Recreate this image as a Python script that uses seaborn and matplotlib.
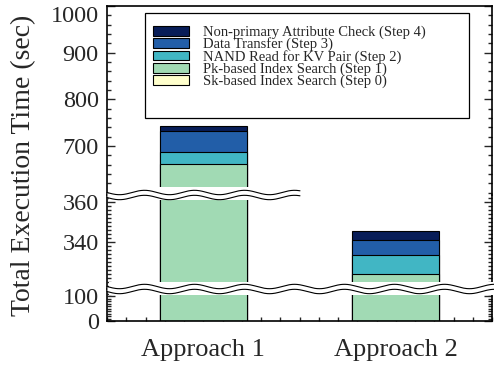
import matplotlib
matplotlib.use("Agg")
import matplotlib.pyplot as plt
import seaborn as sns
import numpy as np
from matplotlib.ticker import MultipleLocator, FixedLocator
from matplotlib.patches import Patch, Rectangle

# ---- data (seconds) ----
approaches = ["Approach 1", "Approach 2"]
step0 = [0.4, 0.3]      # Sk-based Index Search
step1 = [661.0, 323.4]  # Pk-based Index Search
step2 = [25.0, 9.5]     # NAND Read for KV Pair
step3 = [45.5, 7.8]     # Data Transfer
step4 = [11.0, 4.4]     # Non-primary Attribute Check
step_labels = ["Sk-based Index Search (Step 0)",
               "Pk-based Index Search (Step 1)",
               "NAND Read for KV Pair (Step 2)",
               "Data Transfer (Step 3)",
               "Non-primary Attribute Check (Step 4)"]
colors = ["#ffffcc", "#a1dab4", "#41b6c4", "#225ea8", "#081d58"]

# broken y-axis panels (top -> bottom)
panel_ylims = [(595, 1000), (316.35, 363.35), (0, 128)]
panel_major = [[700, 800, 900, 1000], [340, 360], [0, 100]]
panel_minor = [20, 2, 10]

sns.set_theme(style="ticks")
plt.rcParams["font.family"] = ["Liberation Serif", "DejaVu Serif"]
plt.rcParams["axes.linewidth"] = 1.2

W, H = 494, 372
fig = plt.figure(figsize=(W / 100, H / 100), dpi=100)
L, R = 107, 492
panel_px = [(6, 195), (195, 289), (289, 321)]

cum = np.cumsum(np.array([step0, step1, step2, step3, step4]), axis=0)

axes = []
for k, (top, bot) in enumerate(panel_px):
    ax = fig.add_axes([L / W, 1 - bot / H, (R - L) / W, (bot - top) / H])
    for i in reversed(range(5)):
        sns.barplot(x=approaches, y=cum[i], color=colors[i], saturation=1,
                    width=0.45, edgecolor="black", linewidth=0.8, ax=ax)
    ax.set_xlim(-0.5, 1.5)
    ax.set_ylim(*panel_ylims[k])
    ax.set_xlabel("")
    ax.set_ylabel("")
    ax.yaxis.set_major_locator(FixedLocator(panel_major[k]))
    ax.yaxis.set_minor_locator(MultipleLocator(panel_minor[k]))
    ax.tick_params(axis="y", which="both", direction="in", left=True, right=True,
                   labelsize=17.5, pad=6, width=1)
    ax.tick_params(axis="y", which="major", length=6)
    ax.tick_params(axis="y", which="minor", length=3)
    for s in ["left", "right", "top", "bottom"]:
        ax.spines[s].set_color("black")
        ax.spines[s].set_linewidth(1.2)
    if k > 0:
        ax.spines["top"].set_visible(False)
    if k < 2:
        ax.spines["bottom"].set_visible(False)
        ax.tick_params(axis="x", which="both", bottom=False, labelbottom=False)
    else:
        ax.xaxis.set_minor_locator(MultipleLocator(0.1))
        ax.tick_params(axis="x", which="both", direction="in", bottom=True, top=False,
                       labelsize=19, pad=13, width=1)
        ax.tick_params(axis="x", which="major", length=6)
        ax.tick_params(axis="x", which="minor", length=3)
    ax.patch.set_alpha(0)
    axes.append(ax)

# the 1000 label sits below its tick in the reference
axes[0].yaxis.get_major_ticks()[-1].label1.set_verticalalignment("top")

# overlay for breaks
ov = fig.add_axes([0, 0, 1, 1], zorder=10)
ov.set_xlim(0, W)
ov.set_ylim(H, 0)
ov.axis("off")
ov.patch.set_alpha(0)

def draw_break(yc, x0, x1, band_top, band_bot):
    ov.add_patch(Rectangle((108.5, band_top), x1 - 108.5, band_bot - band_top,
                           facecolor="white", edgecolor="none"))
    xs = np.linspace(x0, x1, 500)
    wave = 2.2 * np.sin(2 * np.pi * (xs - x0) / 50.0)
    ov.fill_between(xs, yc + wave - 2.5, yc + wave + 2.5, color="white", lw=0)
    ov.plot(xs, yc + wave - 2.5, color="black", lw=0.8)
    ov.plot(xs, yc + wave + 2.5, color="black", lw=0.8)

draw_break(195, 107, 300, 187, 200)
draw_break(289, 107, 494, 282, 295)

# legend
ov.add_patch(Rectangle((145, 13), 469 - 145, 118 - 13, facecolor="white",
                       edgecolor="black", lw=0.9))
handles = [Patch(facecolor=colors[i], edgecolor="black", lw=0.8) for i in reversed(range(5))]
labels = [step_labels[i] for i in reversed(range(5))]
fig.legend(handles, labels, loc="upper left", bbox_to_anchor=(153 / W, 1 - 25.5 / H),
           bbox_transform=fig.transFigure, borderaxespad=0, borderpad=0,
           frameon=False, fontsize=10.5, labelspacing=-0.1, handlelength=2.47,
           handleheight=0.64, handletextpad=0.96).set_zorder(20)

fig.text(24 / W, 1 - 165 / H, "Total Execution Time (sec)", rotation=90,
         fontsize=20, va="center", ha="center")

fig.savefig("out.png", dpi=100)
